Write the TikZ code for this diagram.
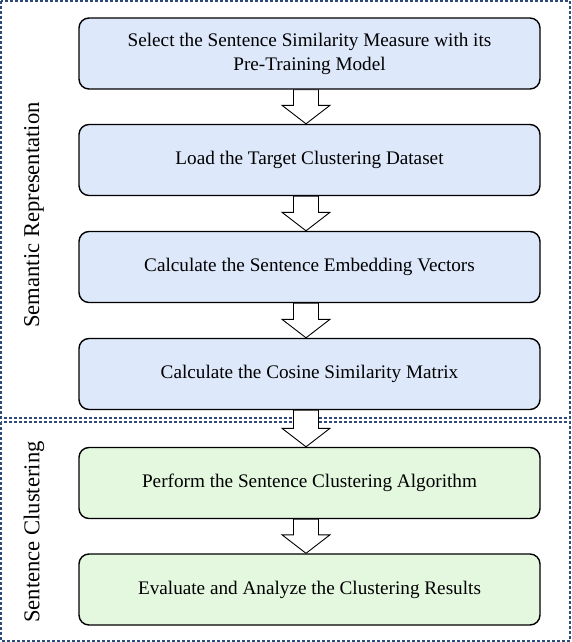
\documentclass[tikz,border=0pt]{standalone}
\usepackage{fontspec}
\setmainfont{Liberation Serif}
\usetikzlibrary{calc}
\begin{document}
\begin{tikzpicture}[x=1pt,y=-1pt,
  stepbox/.style={draw=black,line width=1.4pt,rounded corners=10pt,minimum width=461pt,minimum height=71pt,inner sep=0pt,align=center,font=\fontsize{19.2}{24}\selectfont},
  bluebox/.style={stepbox,fill=blueF},
  greenbox/.style={stepbox,fill=greenF},
  frame/.style={draw=frameC,line width=1.1pt,dash pattern=on 3pt off 2pt},
  blockarrow/.style={draw=black,line width=0.9pt,fill=white},
  sidelabel/.style={rotate=90,font=\fontsize{22.6}{26}\selectfont}]
\definecolor{blueF}{HTML}{DDE8FA}
\definecolor{greenF}{HTML}{E3F8DF}
\definecolor{frameC}{HTML}{2E4A78}
\useasboundingbox (0,0) rectangle (572,642);
\draw[frame] (1,1) rectangle (570,418);
\draw[frame] (1,422) rectangle (570,641);
\node[bluebox] (b1) at (309.5,53.5) {Select the Sentence Similarity Measure with its\\Pre-Training Model};
\node[bluebox] (b2) at (309.5,160) {Load the Target Clustering Dataset};
\node[bluebox] (b3) at (309.5,267) {Calculate the Sentence Embedding Vectors};
\node[bluebox] (b4) at (309.5,374) {Calculate the Cosine Similarity Matrix};
\node[greenbox] (b5) at (309.5,483) {Perform the Sentence Clustering Algorithm};
\node[greenbox] (b6) at (309.5,589.5) {Evaluate and Analyze the Clustering Results};
\node[sidelabel] (l1) at (34,215) {Semantic Representation};
\node[sidelabel] (l2) at (34,532) {Sentence Clustering};
\foreach \a/\b in {b1/b2,b2/b3,b3/b4,b4/b5,b5/b6}{
  \path (\a.south) ++(-3.5,0) coordinate (\a top);
  \path (\b.north) ++(-3.5,0) coordinate (\a tip);
  \draw[blockarrow] ($(\a top)+(-12.5,0)$) -- ($(\a top)+(12.5,0)$) -- ($(\a tip)+(12.5,-18.5)$) -- ($(\a tip)+(24,-18.5)$) -- (\a tip) -- ($(\a tip)+(-24,-18.5)$) -- ($(\a tip)+(-12.5,-18.5)$) -- cycle;
}
\end{tikzpicture}
\end{document}
